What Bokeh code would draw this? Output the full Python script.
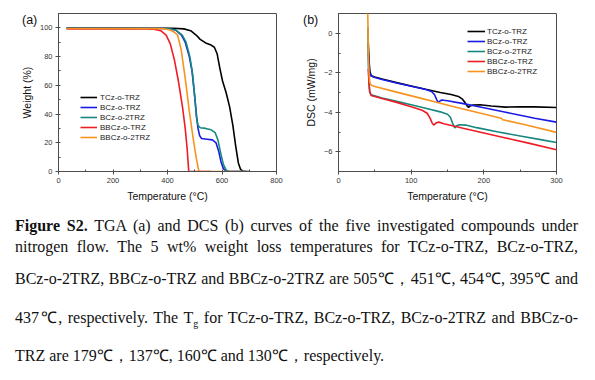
from bokeh.plotting import figure
from bokeh.models import Legend, LegendItem, SingleIntervalTicker, Range1d, Div
from bokeh.layouts import row, column
from bokeh.embed import file_html
from bokeh.resources import INLINE

names = ["TCz-o-TRZ", "BCz-o-TRZ", "BCz-o-2TRZ", "BBCz-o-TRZ", "BBCz-o-2TRZ"]
colors = ["#000000", "#1a1ae6", "#17877f", "#ee1c24", "#f7931e"]
panel_tags = ["(a)", "(b)"]

# ---- TGA (a): temperature (°C) and weight (%) ----
tga_T_tcz = [30, 420, 460, 485, 505, 520, 540, 560, 572, 582, 592, 602, 615, 628, 640, 650, 660, 668, 678, 700]
tga_W_tcz = [99.8, 99.7, 99.3, 98, 95, 92, 89.5, 88, 86.5, 82, 72, 63, 55, 45, 32, 18, 6, 1.5, 0, 0]
tga_T_bcz = [30, 400, 430, 451, 465, 480, 490, 500, 507, 512, 518, 525, 545, 565, 578, 588, 596, 605, 615, 625, 690]
tga_W_bcz = [99.7, 99.6, 98.5, 95, 90, 80, 70, 52, 38, 30, 25, 23, 22.5, 22, 20, 14, 7, 2, 0.3, 0, 0]
tga_T_bcz2 = [30, 400, 430, 454, 468, 482, 492, 500, 506, 512, 520, 540, 560, 575, 585, 595, 605, 615, 625, 690]
tga_W_bcz2 = [99.7, 99.6, 98.5, 95, 90, 80, 68, 52, 38, 32, 30.5, 30, 29, 27, 22, 13, 5, 1, 0, 0]
tga_T_bbcz = [30, 300, 350, 375, 395, 410, 425, 440, 455, 465, 472, 478, 560]
tga_W_bbcz = [99.3, 99.4, 99, 98, 95, 89, 78, 63, 45, 30, 16, 0, 0]
tga_T_bbcz2 = [30, 380, 410, 425, 437, 450, 465, 480, 495, 505, 512, 516, 690]
tga_W_bbcz2 = [99.6, 99.5, 98.5, 97, 95, 85, 65, 42, 22, 10, 3, 0, 0]

# ---- DSC (b): temperature (°C) and heat flow (mW/mg) ----
dsc_T_tcz = [41, 42, 43, 45, 50, 60, 80, 100, 120, 140, 155, 165, 170, 174, 177, 179, 181, 185, 195, 210, 230, 250, 270, 300]
dsc_D_tcz = [-0.5, -1.3, -1.9, -2.15, -2.22, -2.32, -2.5, -2.67, -2.84, -3.0, -3.1, -3.2, -3.32, -3.5, -3.68, -3.75, -3.68, -3.63, -3.62, -3.68, -3.74, -3.72, -3.73, -3.76]
dsc_T_bcz = [41, 42, 43, 45, 50, 60, 80, 100, 120, 128, 132, 135, 137, 139, 142, 150, 170, 190, 210, 230, 250, 270, 300]
dsc_D_bcz = [-1.0, -1.5, -2.0, -2.17, -2.24, -2.34, -2.52, -2.68, -2.85, -2.95, -3.1, -3.35, -3.5, -3.45, -3.38, -3.42, -3.55, -3.7, -3.85, -4.0, -4.15, -4.3, -4.5]
dsc_T_bcz2 = [40.5, 41, 42, 43, 45, 60, 80, 100, 120, 140, 150, 154, 157, 160, 162, 166, 175, 190, 220, 250, 280, 300]
dsc_D_bcz2 = [0.3, -1.5, -2.6, -3.0, -3.12, -3.28, -3.45, -3.62, -3.8, -3.98, -4.1, -4.25, -4.55, -4.8, -4.7, -4.63, -4.65, -4.78, -5.0, -5.2, -5.4, -5.53]
dsc_T_bbcz = [41, 42, 43, 45, 60, 80, 100, 115, 122, 126, 129, 131, 134, 138, 145, 170, 200, 230, 260, 300]
dsc_D_bbcz = [-1.8, -2.5, -2.95, -3.15, -3.3, -3.5, -3.72, -3.9, -4.05, -4.3, -4.55, -4.65, -4.55, -4.5, -4.58, -4.8, -5.05, -5.3, -5.55, -5.9]
dsc_T_bbcz2 = [40, 40.5, 41, 42, 43, 44, 46, 50, 80, 110, 140, 170, 200, 224, 226, 260, 300]
dsc_D_bbcz2 = [1.5, 0.5, -1.0, -2.0, -2.45, -2.58, -2.65, -2.7, -2.98, -3.26, -3.54, -3.82, -4.09, -4.3, -4.38, -4.66, -5.02]

tga = [(tga_T_tcz, tga_W_tcz), (tga_T_bcz, tga_W_bcz), (tga_T_bcz2, tga_W_bcz2),
       (tga_T_bbcz, tga_W_bbcz), (tga_T_bbcz2, tga_W_bbcz2)]
dsc = [(dsc_T_tcz, dsc_D_tcz), (dsc_T_bcz, dsc_D_bcz), (dsc_T_bcz2, dsc_D_bcz2),
       (dsc_T_bbcz, dsc_D_bbcz), (dsc_T_bbcz2, dsc_D_bbcz2)]

FONT = "Liberation Sans"
AX = "#4d4d4d"


def style(p, xint, yint):
    p.xgrid.visible = False
    p.ygrid.visible = False
    p.outline_line_color = AX
    p.outline_line_width = 1
    p.xaxis.ticker = SingleIntervalTicker(interval=xint, num_minor_ticks=2)
    p.yaxis.ticker = SingleIntervalTicker(interval=yint, num_minor_ticks=2)
    for ax in (p.xaxis[0], p.yaxis[0]):
        ax.axis_line_color = AX
        ax.major_tick_line_color = AX
        ax.minor_tick_line_color = AX
        ax.major_tick_in = 0
        ax.major_tick_out = 3
        ax.minor_tick_in = 2
        ax.minor_tick_out = 0
        ax.major_label_text_font = FONT
        ax.major_label_text_font_size = "7.5px"
        ax.major_label_text_color = "#333333"
        ax.axis_label_text_font = FONT
        ax.axis_label_text_font_size = "10.5px"
        ax.axis_label_text_font_style = "normal"
        ax.axis_label_text_color = "#111111"
        ax.major_label_standoff = 3
        ax.axis_label_standoff = 4
    p.background_fill_color = "white"
    p.border_fill_color = "white"


pa = figure(width=293, height=204, output_backend="svg", toolbar_location=None,
            x_range=Range1d(0, 800), y_range=Range1d(0, 110),
            min_border_left=58, min_border_right=17, min_border_top=13, min_border_bottom=31)
style(pa, 200, 20)
pa.xaxis.axis_label = "Temperature (°C)"
pa.yaxis.axis_label = "Weight (%)"
ra = []
for (t, w), c in zip(tga, colors):
    ra.append(pa.line(t, w, line_color=c, line_width=1.6))
leg_a = Legend(items=[LegendItem(label=n, renderers=[r]) for n, r in zip(names, ra)],
               location=(22, 29), padding=0, margin=0, spacing=0,
               label_height=10, glyph_height=10, glyph_width=17, label_standoff=3,
               label_text_font=FONT, label_text_font_size="8px", label_text_color="#222222",
               label_text_line_height=1.0,
               background_fill_alpha=0, border_line_alpha=0)
pa.add_layout(leg_a)

pb = figure(width=294, height=204, output_backend="svg", toolbar_location=None,
            x_range=Range1d(0, 300), y_range=Range1d(-7, 1),
            min_border_left=45, min_border_right=31, min_border_top=13, min_border_bottom=31)
style(pb, 100, 2)
pb.xaxis.axis_label = "Temperature (°C)"
pb.yaxis.axis_label = "DSC (mW/mg)"
rb = []
for (t, d), c in zip(dsc, colors):
    rb.append(pb.line(t, d, line_color=c, line_width=1.6))
leg_b = Legend(items=[LegendItem(label=n, renderers=[r]) for n, r in zip(names, rb)],
               location=(129, 95), padding=0, margin=0, spacing=0,
               label_height=10, glyph_height=10, glyph_width=18, label_standoff=2,
               label_text_font=FONT, label_text_font_size="8px", label_text_color="#222222",
               label_text_line_height=1.0,
               background_fill_alpha=0, border_line_alpha=0)
pb.add_layout(leg_b)

caption_lines = [
    "<b>Figure S2.</b> TGA (a) and DCS (b) curves of the five investigated compounds under",
    "nitrogen flow. The 5 wt% weight loss temperatures for TCz-o-TRZ, BCz-o-TRZ,",
    "BCz-o-2TRZ, BBCz-o-TRZ and BBCz-o-2TRZ are 505℃，451℃, 454℃, 395℃ and",
    "437℃, respectively. The T<sub style='font-size:10px'>g</sub> for TCz-o-TRZ, BCz-o-TRZ, BCz-o-2TRZ and BBCz-o-",
    "TRZ are 179℃，137℃, 160℃ and 130℃，respectively.",
]
caption_tops = [12, 33, 65, 104, 142]
parts = []
# panel tags "(a)" / "(b)" drawn over the figures' top-left corners
for tag, left in zip(panel_tags, [22, 303]):
    parts.append(
        f"<div style=\"position:absolute; left:{left}px; top:-192px; height:16px; line-height:16px; "
        f"font-family:'Liberation Sans', Arial, sans-serif; font-size:12.5px; color:#111;\">{tag}</div>"
    )
for i, (txt, top) in enumerate(zip(caption_lines, caption_tops)):
    last = "justify" if i < 4 else "left"
    parts.append(
        f"<div style=\"position:absolute; left:15px; top:{top}px; width:563px; height:20px; "
        f"line-height:20px; white-space:nowrap; text-align:justify; text-align-last:{last};\">{txt}</div>"
    )
html = ("<div style=\"position:relative; width:587px; height:170px; overflow:visible; "
        "font-family:'Liberation Serif', 'Times New Roman', serif; font-size:16px; color:#111;\">"
        + "".join(parts) + "</div>")
cap = Div(text=html, width=587, height=170, margin=0, styles={"overflow": "visible"})

layout = column(row(pa, pb, spacing=0), cap, spacing=0)
open("out.html", "w").write(file_html(layout, INLINE))
